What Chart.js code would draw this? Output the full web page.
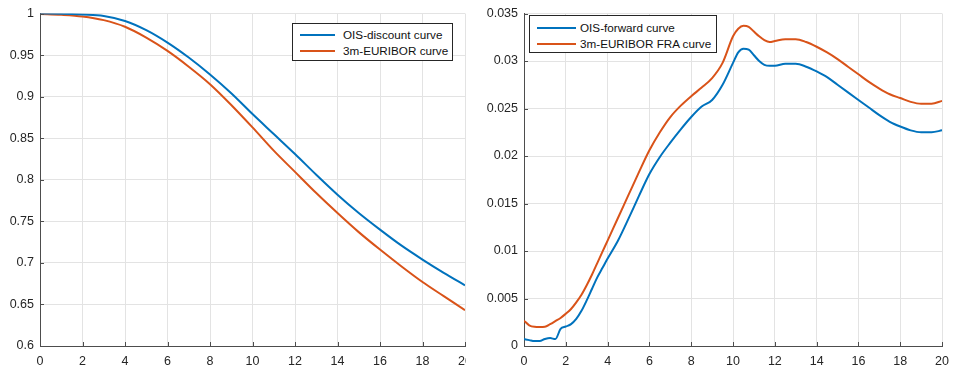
<!DOCTYPE html>
<html>
<head>
<meta charset="utf-8">
<script src="https://cdn.jsdelivr.net/npm/chart.js@4.4.1/dist/chart.umd.min.js"></script>
<style>
  html, body { margin: 0; padding: 0; background: #fff; }
  body { width: 957px; height: 369px; position: relative; overflow: hidden; font-family: "Liberation Sans", Arial, sans-serif; }
  .panel { position: absolute; top: 0; height: 369px; overflow: hidden; }
  .legend { position: absolute; background: #fff; border: 1px solid #262626; box-sizing: border-box; font-size: 11.7px; color: #111; }
  .legend .row { position: absolute; left: 0; right: 0; height: 14px; }
  .legend .swatch { position: absolute; height: 2px; }
  .legend .txt { position: absolute; white-space: nowrap; line-height: 14px; }
</style>
</head>
<body>
<div class="panel" id="leftPanel" style="left:0;width:466px;">
  <canvas id="discountChart" width="490" height="369" style="width:490px;height:369px;"></canvas>
</div>
<div class="panel" id="rightPanel" style="left:477px;width:480px;">
  <canvas id="forwardChart" width="480" height="369" style="width:480px;height:369px;"></canvas>
</div>
<div class="legend" id="leftLegend" style="left:292px;top:23px;width:161px;height:38px;"></div>
<div class="legend" id="rightLegend" style="left:529px;top:15px;width:188px;height:38px;"></div>

<script>
// ===============================
// Data
// ===============================
const maturities = [0, 1, 2, 3, 4, 5, 6, 7, 8, 9, 10, 11, 12, 13, 14, 15, 16, 17, 18, 19, 20];
const oisDiscount = [1.0, 0.9998, 0.9988, 0.997, 0.991, 0.980, 0.965, 0.947, 0.9266, 0.904, 0.879,
                     0.855, 0.831, 0.806, 0.782, 0.760, 0.740, 0.721, 0.704, 0.688, 0.673];
const euriborDiscount = [0.9995, 0.9985, 0.9965, 0.992, 0.984, 0.971, 0.955, 0.936, 0.915, 0.890, 0.863,
                         0.835, 0.8095, 0.784, 0.760, 0.737, 0.716, 0.696, 0.677, 0.660, 0.643];

const fwdMaturities = [0, 0.25, 0.5, 0.75, 1, 1.25, 1.5, 1.75, 2, 2.25, 2.5, 2.75, 3, 3.25, 3.5, 3.75,
                       4, 4.5, 5, 5.5, 6, 6.5, 7, 7.5, 8, 8.5, 9, 9.5, 10, 10.25, 10.5, 10.75,
                       11, 11.25, 11.5, 11.75, 12, 12.5, 13, 13.5, 14, 14.5, 15, 15.5, 16, 16.5,
                       17, 17.5, 18, 18.5, 19, 19.5, 20];
const oisForward = [0.00073, 0.00062, 0.00052, 0.00052, 0.00073, 0.00083, 0.00073, 0.0018, 0.00205, 0.0023,
                    0.00285, 0.0037, 0.0048, 0.006, 0.0072, 0.0082, 0.0092, 0.0111, 0.0134, 0.0158,
                    0.0181, 0.0199, 0.0214, 0.0228, 0.0241, 0.0252, 0.0259, 0.0275, 0.0298, 0.0309,
                    0.0313, 0.0312, 0.0306, 0.0300, 0.0296, 0.0295, 0.0295, 0.0297, 0.0297, 0.0294,
                    0.0289, 0.0283, 0.0275, 0.0267, 0.0259, 0.0251, 0.0243, 0.0236, 0.0231, 0.0227,
                    0.0225, 0.0225, 0.0227];
const euriborFra = [0.00267, 0.00218, 0.00202, 0.0020, 0.00202, 0.0023, 0.00262, 0.00295, 0.0034, 0.0039,
                    0.0046, 0.0054, 0.0064, 0.0075, 0.0087, 0.0099, 0.0111, 0.0135, 0.0159, 0.0183,
                    0.0206, 0.0225, 0.0241, 0.0253, 0.0263, 0.0272, 0.0282, 0.0298, 0.0326, 0.0334,
                    0.0337, 0.0336, 0.0331, 0.0326, 0.0322, 0.0320, 0.0321, 0.0323, 0.0323, 0.0320,
                    0.0315, 0.0309, 0.0302, 0.0294, 0.0286, 0.0278, 0.0271, 0.0265, 0.0261, 0.0257,
                    0.0255, 0.0255, 0.0258];

const blue = "#0072BD";
const orange = "#D95319";
const gridColor = "#e3e3e3";
const axisColor = "#4d4d4d";
const textColor = "#262626";

Chart.defaults.font.family = '"Liberation Sans", Arial, sans-serif';
Chart.defaults.font.size = 12.5;
Chart.defaults.color = textColor;

// ===============================
// Inward tick marks (MATLAB style)
// ===============================
const inwardTicks = {
    id: "inwardTicks",
    afterDatasetsDraw(chart) {
        const ctx = chart.ctx;
        const xs = chart.scales.x;
        const ys = chart.scales.y;
        const area = chart.chartArea;
        ctx.save();
        ctx.strokeStyle = axisColor;
        ctx.lineWidth = 1;
        ctx.beginPath();
        xs.ticks.forEach(t => {
            const px = Math.round(xs.getPixelForValue(t.value)) + 0.5;
            ctx.moveTo(px, area.bottom);
            ctx.lineTo(px, area.bottom - 4);
        });
        ys.ticks.forEach(t => {
            const py = Math.round(ys.getPixelForValue(t.value)) + 0.5;
            ctx.moveTo(area.left, py);
            ctx.lineTo(area.left + 4, py);
        });
        ctx.stroke();
        ctx.restore();
    }
};

function toPoints(xs, ys) {
    return xs.map((x, i) => ({ x: x, y: ys[i] }));
}

function makeChart(canvasId, xs, series, yOpts) {
    const ctx = document.getElementById(canvasId).getContext("2d");
    return new Chart(ctx, {
        type: "line",
        data: {
            datasets: series.map(s => ({
                label: s.label,
                data: toPoints(xs, s.values),
                borderColor: s.color,
                borderWidth: 2,
                pointRadius: 0,
                fill: false,
                cubicInterpolationMode: "monotone"
            }))
        },
        options: {
            responsive: false,
            animation: false,
            events: [],
            layout: { padding: { top: 10, right: yOpts.padRight, left: 0, bottom: 0 } },
            plugins: { legend: { display: false }, tooltip: { enabled: false } },
            scales: {
                x: {
                    type: "linear",
                    min: 0,
                    max: 20,
                    ticks: { stepSize: 2, padding: 8, maxRotation: 0, autoSkip: false },
                    grid: { color: gridColor, drawTicks: false },
                    border: { display: true, color: axisColor, width: 1 },
                    afterFit(scale) { scale.height = 23; }
                },
                y: {
                    min: yOpts.min,
                    max: yOpts.max,
                    ticks: {
                        stepSize: yOpts.step,
                        padding: 6,
                        autoSkip: false,
                        callback: v => String(Number(v.toFixed(yOpts.digits)))
                    },
                    grid: { color: gridColor, drawTicks: false },
                    border: { display: true, color: axisColor, width: 1 },
                    afterFit(scale) { scale.width = yOpts.axisWidth; }
                }
            }
        },
        plugins: [inwardTicks]
    });
}

function buildLegend(elId, chart, lineLeft, lineWidth, textLeft, rowTops) {
    const box = document.getElementById(elId);
    chart.data.datasets.forEach((ds, i) => {
        const row = document.createElement("div");
        row.className = "row";
        row.style.top = rowTops[i] + "px";
        const sw = document.createElement("div");
        sw.className = "swatch";
        sw.style.left = lineLeft + "px";
        sw.style.width = lineWidth + "px";
        sw.style.top = "6px";
        sw.style.background = ds.borderColor;
        const txt = document.createElement("div");
        txt.className = "txt";
        txt.style.left = textLeft + "px";
        txt.textContent = ds.label;
        row.appendChild(sw);
        row.appendChild(txt);
        box.appendChild(row);
    });
}

const discountChart = makeChart("discountChart", maturities, [
    { label: "OIS-discount curve", values: oisDiscount, color: blue },
    { label: "3m-EURIBOR curve", values: euriborDiscount, color: orange }
], { min: 0.6, max: 1, step: 0.05, digits: 2, axisWidth: 40, padRight: 25 });

const forwardChart = makeChart("forwardChart", fwdMaturities, [
    { label: "OIS-forward curve", values: oisForward, color: blue },
    { label: "3m-EURIBOR FRA curve", values: euriborFra, color: orange }
], { min: 0, max: 0.035, step: 0.005, digits: 3, axisWidth: 47, padRight: 7 });

buildLegend("leftLegend", discountChart, 7, 35, 50, [4, 20]);
buildLegend("rightLegend", forwardChart, 7, 39, 50, [5, 21]);
</script>
</body>
</html>
